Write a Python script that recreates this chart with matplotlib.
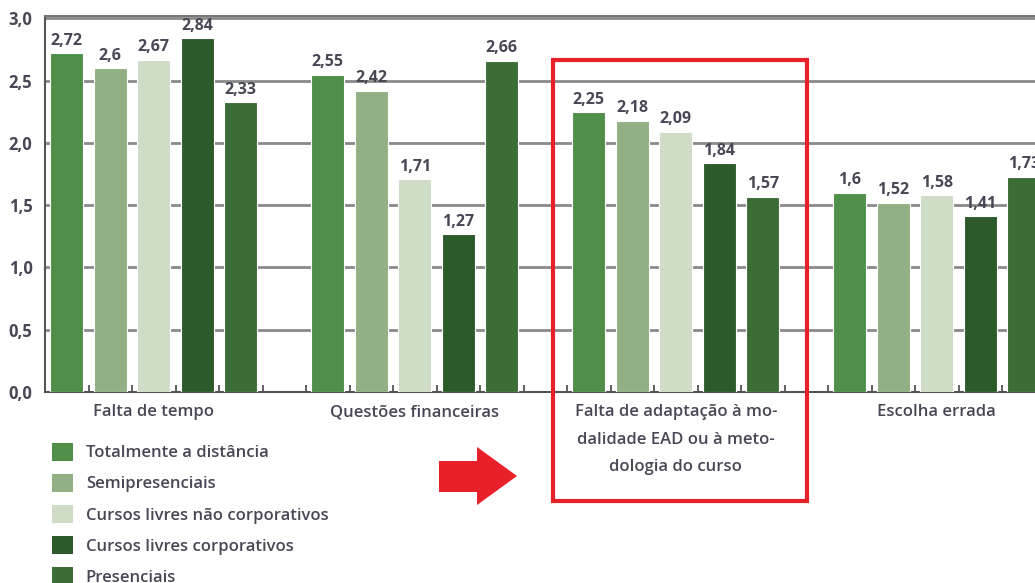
import matplotlib
matplotlib.use("Agg")
import matplotlib.pyplot as plt
from matplotlib.patches import Patch, Polygon, Rectangle
from matplotlib.ticker import FixedLocator
import numpy as np

plt.rcParams['font.family'] = ['Open Sans', 'DejaVu Sans']

categories = ["Falta de tempo", "Questões financeiras",
              "Falta de adaptação à mo-\ndalidade EAD ou à meto-\ndologia do curso",
              "Escolha errada"]
series_names = ["Totalmente a distância", "Semipresenciais",
                "Cursos livres não corporativos", "Cursos livres corporativos",
                "Presenciais"]
totalmente = [2.72, 2.55, 2.25, 1.6]
semipresenciais = [2.6, 2.42, 2.18, 1.52]
livres_nao_corp = [2.67, 1.71, 2.09, 1.58]
livres_corp = [2.84, 1.27, 1.84, 1.41]
presenciais = [2.33, 2.66, 1.57, 1.73]
yticks = [0.0, 0.5, 1.0, 1.5, 2.0, 2.5, 3.0]

series_values = [totalmente, semipresenciais, livres_nao_corp, livres_corp, presenciais]
colors = ["#4f8f4a", "#91b083", "#cfdcc8", "#2d5a2b", "#3c6d36"]
text_color = "#4a4655"

W, H = 1035, 583
fig = plt.figure(figsize=(W / 100, H / 100), dpi=100)
ax = fig.add_axes([45 / W, 1 - 392 / H, 1 - 45 / W, (392 - 16) / H])

n_series = len(series_names)
slots_per_group = n_series + 1
bar_w = 0.76
for s, (name, vals, col) in enumerate(zip(series_names, series_values, colors)):
    xs = np.arange(len(categories)) * slots_per_group + s + 0.5
    ax.bar(xs, vals, width=bar_w, color=col, edgecolor="white",
           linewidth=0.8, zorder=3, label=name)
    for x, v in zip(xs, vals):
        ax.text(x, v + 0.035, f"{v:g}".replace('.', ','), ha='center', va='bottom',
                fontsize=11.5, fontweight='bold', color=text_color, zorder=4,
                clip_on=False)

total_slots = (W - 45) / 43.5
ax.set_xlim(0, total_slots)
ax.set_ylim(0, 3.02)

ax.set_yticks(yticks)
ax.set_yticklabels([f"{t:.1f}".replace('.', ',') for t in yticks],
                   fontsize=12, fontweight='bold', color=text_color)
ax.tick_params(axis='y', length=0, pad=9)
ax.yaxis.grid(True, color="#8a8a8a", linewidth=2.0, zorder=0)
ax.set_axisbelow(True)

centers = np.arange(len(categories)) * slots_per_group + n_series / 2
ax.set_xticks(centers)
ax.set_xticklabels(categories, fontsize=12, color=text_color, linespacing=1.95,
                   va='top', fontweight='semibold')
ax.tick_params(axis='x', which='major', length=0, pad=9)
ax.xaxis.set_minor_locator(FixedLocator(np.arange(0, int(total_slots) + 1)))
ax.tick_params(axis='x', which='minor', direction='in', length=5, width=1.2,
               color="#444444")

ax.spines['right'].set_visible(False)
ax.spines['top'].set_color("#777777")
ax.spines['top'].set_linewidth(1.5)
ax.spines['left'].set_color("#555555")
ax.spines['left'].set_linewidth(1.5)
ax.spines['bottom'].set_color("#555555")
ax.spines['bottom'].set_linewidth(1.5)

handles = [Patch(facecolor=c, edgecolor='none') for c in colors]
fig.legend(handles, series_names, loc='upper left',
           bbox_to_anchor=(40 / W, 1 - 431 / H), frameon=False,
           prop={'size': 12, 'weight': 'semibold'}, handlelength=1.3, handleheight=1.3,
           labelspacing=0.75, handletextpad=0.75, labelcolor=text_color,
           borderpad=0.2)

# red highlight rectangle
rect = Rectangle((553, H - 501), 807 - 553, 501 - 60, transform=None,
                 fill=False, edgecolor="#e8202a", linewidth=3)
fig.patches.append(rect)

# red arrow
arrow_pts = [(439, 461), (477, 461), (477, 447), (517, 476),
             (477, 505), (477, 492), (439, 492)]
arrow = Polygon([(x, H - y) for x, y in arrow_pts], closed=True, transform=None,
                facecolor="#e8202a", edgecolor='none')
fig.patches.append(arrow)

fig.savefig("out.png", dpi=100)
